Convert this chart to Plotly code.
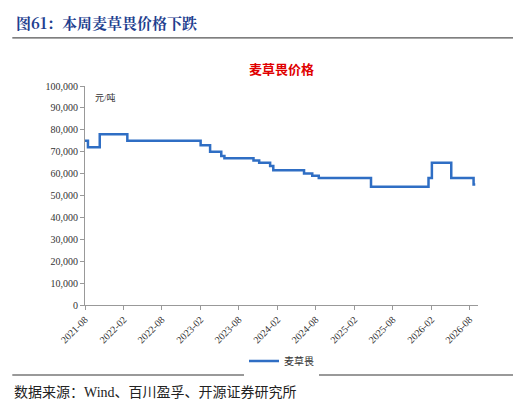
import plotly.graph_objects as go

dates = ["2021-08-01","2021-08-15","2021-10-10","2022-02-18","2023-02-01","2023-03-18",
         "2023-05-10","2023-05-25","2023-10-10","2023-11-06","2023-12-28","2024-01-12",
         "2024-06-06","2024-07-15","2024-08-15","2025-04-20","2026-01-18","2026-02-03",
         "2026-05-06","2026-08-20","2026-08-28"]
prices = [75000,72000,78000,75000,73000,70000,68000,67000,66000,65000,63500,61500,
          60000,59000,58000,54000,58000,65000,58000,55000,55000]
tick_vals = ["2021-08-01","2022-02-01","2022-08-01","2023-02-01","2023-08-01","2024-02-01",
             "2024-08-01","2025-02-01","2025-08-01","2026-02-01","2026-08-01"]
tick_text = [t[:7] for t in tick_vals]

fig = go.Figure(go.Scatter(x=dates, y=prices, mode="lines", line_shape="hv",
                           line=dict(color="#2F6EC4", width=2.5), name="麦草畏"))
serif = "Liberation Serif, Noto Sans CJK SC"
fig.update_layout(
    width=521, height=406, paper_bgcolor="white", plot_bgcolor="white",
    margin=dict(l=77, r=51, t=78, b=109),
    font=dict(family=serif, size=10, color="#333"),
    showlegend=True,
    legend=dict(orientation="h", x=0.5, xanchor="center", y=-0.19, yanchor="top", font=dict(size=10)),
    xaxis=dict(type="date", range=["2021-08-01","2026-09-10"], tickvals=tick_vals, ticktext=tick_text,
               tickangle=-45, showline=True, linecolor="#999", ticks="outside", tickcolor="#999",
               ticklen=4, showgrid=False),
    yaxis=dict(range=[0,100000], dtick=10000, tickformat=",d", showline=True, linecolor="#999",
               ticks="outside", tickcolor="#999", ticklen=4, showgrid=False),
)
fig.add_annotation(text="<b>图61：本周麦草畏价格下跌</b>", xref="paper", yref="paper",
                   x=-0.18, y=1.29, xanchor="left", yanchor="middle", showarrow=False,
                   font=dict(size=15, color="#1F3F8F", family="Noto Serif CJK SC, Noto Sans CJK SC"))
fig.add_shape(type="line", xref="paper", yref="paper", x0=-0.185, x1=1.115, y0=1.22, y1=1.22,
              line=dict(color="#555", width=1.2))
fig.add_annotation(text="<b>麦草畏价格</b>", xref="paper", yref="paper", x=0.5, y=1.08, yanchor="middle",
                   showarrow=False, font=dict(size=13, color="#E00000", family="Noto Sans CJK SC"))
fig.add_annotation(text="元/吨", xref="paper", yref="paper", x=0.02, y=0.98, xanchor="left",
                   yanchor="top", showarrow=False, font=dict(size=9, color="#333"))
fig.add_shape(type="line", xref="paper", yref="paper", x0=-0.185, x1=1.115, y0=-0.32, y1=-0.32,
              line=dict(color="#777", width=1.5))
fig.add_annotation(text="数据来源：Wind、百川盈孚、开源证券研究所", xref="paper", yref="paper",
                   x=-0.185, y=-0.40, xanchor="left", yanchor="middle", showarrow=False,
                   font=dict(size=14, color="#222", family=serif))
fig.write_html("out.html")
